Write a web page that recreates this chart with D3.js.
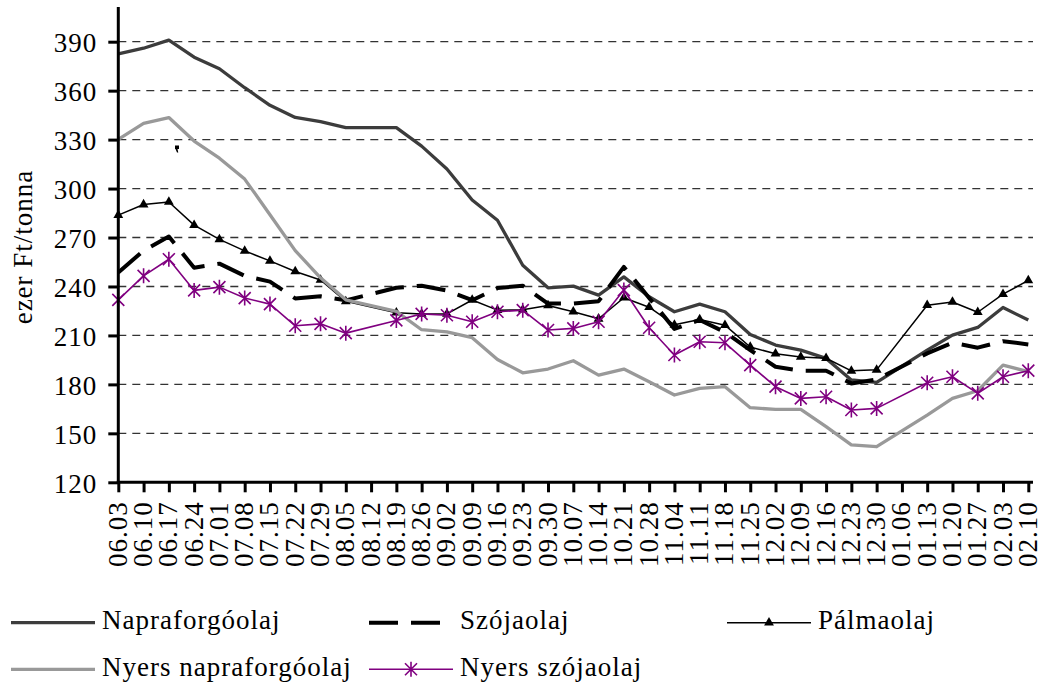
<!DOCTYPE html>
<html lang="hu">
  <head>
    <meta charset="UTF-8" />
    <title>Étolajárak</title>
    <script src="https://d3js.org/d3.v7.min.js"></script>
    <style>
      body {
        margin: 0;
        background: #fff;
      }
      svg text {
        font-family: "Liberation Serif", "Times New Roman", serif;
        font-size: 27px;
        letter-spacing: 1px;
        fill: #000;
      }
      .grid line {
        stroke: #333;
        stroke-width: 1.3;
        stroke-dasharray: 8 6;
      }
      .axis path,
      .axis line {
        stroke: #000;
        stroke-width: 3;
      }
    </style>
  </head>
  <body>
    <div id="chart"></div>

    <script>
      // heti dátumok
      const dates = [
        "06.03", "06.10", "06.17", "06.24", "07.01", "07.08", "07.15", "07.22", "07.29",
        "08.05", "08.12", "08.19", "08.26", "09.02", "09.09", "09.16", "09.23", "09.30",
        "10.07", "10.14", "10.21", "10.28", "11.04", "11.11", "11.18", "11.25", "12.02",
        "12.09", "12.16", "12.23", "12.30", "01.06", "01.13", "01.20", "01.27", "02.03", "02.10",
      ];

      // ezer Ft/tonna (null = nincs adat, a vonal átköt)
      const napraforgo = [
        382.5, 386, 391, 380.5, 373.4, 361.8, 351, 343.6, 341, 337.3, null, 337.3, 326,
        312, 293, 280.6, 253, 239.2, 240.2, 234.7, 245.9, 233.7, 224.5, 229.2, 224.5,
        210.6, 204.1, 201, 195.9, 182.7, 181.2, null, 201, 210.2, 214.9, 227.1, 219.4,
      ];
      const szoja = [
        248.6, 262, 270.6, 251.5, 254, 246.5, 243, 232.7, 234, 231.5, null, 239.2, 240.5,
        237.5, 231.6, 239, 240.5, 229.5, 229.5, 231, 252, 233, 214, 219.5, 212,
        201, 190.8, 188.4, 188.4, 180.6, 183, null, 199, 205.5, 202.5, 206.5, 204.5,
      ];
      const palma = [
        283.7, 290.2, 291.8, 277.6, 268.9, 261.8, 255.7, 249.2, 244, 230.9, null, 223.9, 223.2,
        223.2, 231.7, 225.5, 225.8, 228.4, 224.5, 220.2, 233.1, 227.3, 216.5, 219.8, 216.3,
        202.9, 198.8, 196.8, 196, 188.3, 188.9, null, 228.5, 230.5, 224.2, 235.3, 243.7,
      ];
      const nyersNapraforgo = [
        330.2, 339.9, 343.5, 329.1, 318.6, 305.8, 284, 262, 245.3, 231.8, null, 224.7, 213.5,
        212.2, 208.6, 195.3, 187.1, 189.4, 194.5, 185.7, 189.4, 181.6, 173.5, 177.6, 178.6,
        165.7, 164.7, 164.7, 154.1, 142.9, 141.8, null, 161.2, 171.4, 176.1, 191.8, 187.8,
      ];
      const nyersSzoja = [
        231.8, 246.5, 256.7, 237.6, 239.6, 232.9, 229.2, 215.9, 217.1, 211.4, null, 219.2, 223.2,
        222.4, 218.4, 224.5, 225.5, 213.3, 214.3, 218.4, 237.8, 214.7, 198, 206.1, 205.5,
        191.8, 178.6, 171.4, 172.4, 164.3, 165.3, null, 181, 184.7, 174.5, 184.7, 188.4,
      ];

      const yTicks = [120, 150, 180, 210, 240, 270, 300, 330, 360, 390];

      const width = 1042;
      const height = 686;
      const plotLeft = 118.3;
      const plotRight = 1028.3;
      const axisRight = 1033;
      const plotBottom = 482.3;
      const axisTop = 7;

      const series = [
        { name: "Napraforgóolaj", values: napraforgo, color: "#3c3c3c", width: 3.3, dash: null, marker: null },
        { name: "Szójaolaj", values: szoja, color: "#000", width: 4, dash: "29 13", marker: null },
        { name: "Pálmaolaj", values: palma, color: "#000", width: 1.5, dash: null, marker: "triangle" },
        { name: "Nyers napraforgóolaj", values: nyersNapraforgo, color: "#999", width: 3.3, dash: null, marker: null },
        { name: "Nyers szójaolaj", values: nyersSzoja, color: "#800080", width: 1.6, dash: null, marker: "star" },
      ];

      const svg = d3.select("#chart").append("svg").attr("width", width).attr("height", height);

      const x = d3.scalePoint().domain(dates).range([plotLeft, plotRight]);
      const y = d3.scaleLinear().domain([120, 390]).range([plotBottom, 41.7]);

      // rácsvonalak
      svg
        .append("g")
        .attr("class", "grid")
        .selectAll("line")
        .data(yTicks.filter((t) => t > 120))
        .enter()
        .append("line")
        .attr("x1", plotLeft)
        .attr("x2", axisRight)
        .attr("y1", (d) => y(d))
        .attr("y2", (d) => y(d));

      // kis fekete folt a 06.17-es oszlop fölött (az eredetin is ott van)
      svg
        .append("path")
        .attr("d", "M175,145.5h4v3.5h-1.5l0.8,3.5h-1.3l-1.5,-3.5h-0.5z")
        .attr("fill", "#000");

      // görbék
      const line = d3
        .line()
        .x((d) => x(d.date))
        .y((d) => y(d.value));

      const starPath = "M-6,-6L6,6M-6,6L6,-6M0,-7.5L0,7.5";
      const triPath = d3.symbol().type(d3.symbolTriangle).size(42)();

      function drawMarker(g, type, color) {
        if (type === "triangle") {
          g.append("path").attr("d", triPath).attr("fill", color);
        } else if (type === "star") {
          g.append("path").attr("d", starPath).attr("fill", "none").attr("stroke", color).attr("stroke-width", 1.6);
        }
      }

      series.forEach((s) => {
        const pts = dates.map((d, i) => ({ date: d, value: s.values[i] })).filter((p) => p.value !== null);
        svg
          .append("path")
          .datum(pts)
          .attr("d", line)
          .attr("fill", "none")
          .attr("stroke", s.color)
          .attr("stroke-width", s.width)
          .attr("stroke-linejoin", "round")
          .attr("stroke-dasharray", s.dash);

        if (s.marker) {
          svg
            .append("g")
            .selectAll("g")
            .data(pts)
            .enter()
            .append("g")
            .attr("transform", (p) => `translate(${x(p.date)},${y(p.value)})`)
            .each(function () {
              drawMarker(d3.select(this), s.marker, s.color);
            });
        }
      });

      // y tengely
      const yAxis = svg
        .append("g")
        .attr("class", "axis")
        .attr("transform", `translate(${plotLeft},0)`)
        .call(d3.axisLeft(y).tickValues(yTicks).tickSize(10).tickPadding(11));
      yAxis.select(".domain").remove();
      yAxis.selectAll("text").attr("dy", "0.37em");
      yAxis.attr("font-family", null).attr("font-size", null);
      yAxis
        .append("line")
        .attr("x1", 0)
        .attr("x2", 0)
        .attr("y1", axisTop)
        .attr("y2", plotBottom);

      // x tengely
      const xAxis = svg
        .append("g")
        .attr("class", "axis")
        .attr("transform", `translate(0,${plotBottom})`)
        .call(d3.axisBottom(x).tickSize(10));
      xAxis.select(".domain").remove();
      xAxis.attr("font-family", null).attr("font-size", null);
      xAxis
        .append("line")
        .attr("x1", plotLeft - 1.5)
        .attr("x2", axisRight)
        .attr("y1", 0)
        .attr("y2", 0);
      xAxis
        .selectAll(".tick text")
        .attr("y", 0)
        .attr("dy", null)
        .attr("text-anchor", "end")
        .attr("transform", "translate(8,19) rotate(-90)");

      // tengelycím
      svg
        .append("text")
        .attr("transform", "translate(32,247) rotate(-90)")
        .attr("text-anchor", "middle")
        .text("ezer Ft/tonna");

      // jelmagyarázat
      const legendPos = [
        { x: 11, y: 622.7 },
        { x: 369, y: 622.7 },
        { x: 727, y: 622.7 },
        { x: 11, y: 669.3 },
        { x: 369, y: 669.3 },
      ];

      series.forEach((s, i) => {
        const p = legendPos[i];
        const g = svg.append("g").attr("transform", `translate(${p.x},${p.y})`);
        g.append("line")
          .attr("x1", 0)
          .attr("x2", 84)
          .attr("y1", 0)
          .attr("y2", 0)
          .attr("stroke", s.color)
          .attr("stroke-width", s.width)
          .attr("stroke-dasharray", s.dash);
        if (s.marker) {
          drawMarker(g.append("g").attr("transform", "translate(42,0)"), s.marker, s.color);
        }
        g.append("text").attr("x", 91).attr("y", 6.7).text(s.name);
      });
    </script>
  </body>
</html>
